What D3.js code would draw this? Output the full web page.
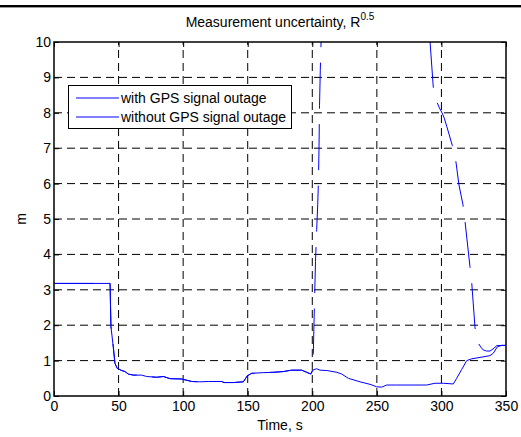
<!DOCTYPE html>
<html><head><meta charset="utf-8">
<script src="https://cdn.jsdelivr.net/npm/d3@7/dist/d3.min.js"></script>
<style>
body{margin:0;background:#fff}
svg{display:block}
text{font-family:"Liberation Sans",Arial,Helvetica,sans-serif;fill:#000}
</style>
</head><body>
<svg id="chart" width="521" height="437"></svg>
<script>
// ---------------- data ----------------
const titleText = "Measurement uncertainty, R";
const titleSup = "0.5";
const xLabel = "Time, s";
const yLabel = "m";
const xTicks = [0, 50, 100, 150, 200, 250, 300, 350];
const yTicks = [0, 1, 2, 3, 4, 5, 6, 7, 8, 9, 10];
const seriesNames = ["with GPS signal outage", "without GPS signal outage"];

// without GPS signal outage
const withoutTime = [0, 43.4, 44.1, 45.9, 47.2, 49, 52.4, 55, 57.5, 61.4, 67.9, 71.8, 79.5, 84.7, 89.8, 98.9,
  106.6, 113, 119.5, 129.8, 131.6, 138.8, 146.6, 149.7, 153, 162, 169.8, 177.6, 184, 191.8, 195.7, 198.8,
  200.8, 203.4, 206, 211.2, 219, 222.8, 227.9, 237, 244.7, 249.9, 253.7, 257.6, 265.4, 288.6, 295, 301.5,
  309.2, 311.8, 315.7, 319.6, 323.4, 329.9, 337.6, 340.2, 343.3, 346.7, 350];
const withoutValue = [3.18, 3.18, 1.96, 1.39, 0.92, 0.78, 0.72, 0.69, 0.62, 0.59, 0.59, 0.55, 0.53, 0.55, 0.49, 0.48,
  0.41, 0.40, 0.41, 0.41, 0.38, 0.38, 0.40, 0.57, 0.64, 0.66, 0.67, 0.69, 0.73, 0.73, 0.67, 0.62,
  0.74, 0.77, 0.73, 0.72, 0.67, 0.62, 0.50, 0.40, 0.33, 0.26, 0.25, 0.31, 0.31, 0.31, 0.36, 0.36,
  0.34, 0.50, 0.75, 1.00, 1.05, 1.09, 1.14, 1.21, 1.39, 1.43, 1.43];

// with GPS signal outage (same as above up to ~199 s, then diverges; values above 10 are off-scale)
const withTime = [0, 43.4, 44.1, 45.9, 47.2, 49, 52.4, 55, 57.5, 61.4, 67.9, 71.8, 79.5, 84.7, 89.8, 98.9,
  106.6, 113, 119.5, 129.8, 131.6, 138.8, 146.6, 149.7, 153, 162, 169.8, 177.6, 184, 191.8, 195.7, 198.8,
  200.0, 200.8, 201.6, 202.5, 203.4, 204.2, 204.8, 205.2, 205.6, 206.2, 206.8, 209, 215, 230, 250, 270, 285, 289,
  291.2, 293.7, 296.8, 298.4, 300.2, 302.2, 304.1, 308.4, 311.1, 313.6, 316.7, 318.3, 322.1, 323.4, 326.0,
  327.2, 328.6, 330.5, 332.4, 335, 337.6, 340, 342.8, 346.7, 350];
const withValue = [3.18, 3.18, 1.96, 1.39, 0.92, 0.78, 0.72, 0.69, 0.62, 0.59, 0.59, 0.55, 0.53, 0.55, 0.49, 0.48,
  0.41, 0.40, 0.41, 0.41, 0.38, 0.38, 0.40, 0.57, 0.64, 0.66, 0.67, 0.69, 0.73, 0.73, 0.67, 0.62,
  0.72, 1.2, 2.5, 3.8, 4.7, 5.4, 6.1, 7.0, 8.2, 9.2, 10.0, 13, 18, 24, 26, 22, 15, 12,
  10.0, 8.72, 8.28, 8.14, 8.02, 7.85, 7.62, 7.08, 6.65, 5.96, 5.40, 4.92, 3.65, 3.23, 1.93,
  1.65, 1.49, 1.38, 1.30, 1.27, 1.27, 1.33, 1.42, 1.43, 1.43];

// ---------------- layout ----------------
const W = 521, H = 437;
const m = {left: 54, right: 506, top: 42, bottom: 396};
const svg = d3.select("#chart");
const x = d3.scaleLinear().domain([0, 350]).range([m.left, m.right]);
const y = d3.scaleLinear().domain([0, 10]).range([m.bottom, m.top]);
const FONT = 14;
const BLUE = "#0000ff";
const DASH = [46, 15.5];
const PERIOD = DASH[0] + DASH[1];

svg.append("rect").attr("width", W).attr("height", H).attr("fill", "#fff");
// top rule
svg.append("rect").attr("x", 0).attr("y", 5).attr("width", W).attr("height", 2.4).attr("fill", "#000");

svg.append("defs").append("clipPath").attr("id", "clip")
  .append("rect").attr("x", m.left).attr("y", m.top)
  .attr("width", m.right - m.left).attr("height", m.bottom - m.top);

// grid
const grid = svg.append("g").attr("stroke", "#000").attr("stroke-width", 1).attr("stroke-dasharray", "8,5");
grid.selectAll("line.gx").data(xTicks.slice(1, -1)).join("line")
  .attr("x1", d => x(d)).attr("x2", d => x(d)).attr("y1", m.bottom).attr("y2", m.top);
grid.selectAll("line.gy").data(yTicks.slice(1, -1)).join("line")
  .attr("x1", m.left).attr("x2", m.right).attr("y1", d => y(d)).attr("y2", d => y(d));

// axes with inward ticks
function styleAxis(g) {
  g.select(".domain").remove();
  g.selectAll(".tick line").attr("stroke", "#000").attr("stroke-width", 1);
  g.selectAll("text").attr("font-size", FONT).attr("font-family", "Liberation Sans, Arial, sans-serif");
}
svg.append("g").attr("transform", `translate(0,${m.bottom})`)
  .call(d3.axisBottom(x).tickValues(xTicks).tickSize(-5).tickPadding(5).tickSizeOuter(0))
  .call(styleAxis);
svg.append("g").attr("transform", `translate(0,${m.top})`)
  .call(d3.axisTop(x).tickValues(xTicks).tickSize(-5).tickFormat("").tickSizeOuter(0))
  .call(styleAxis);
svg.append("g").attr("transform", `translate(${m.left},0)`)
  .call(d3.axisLeft(y).tickValues(yTicks).tickSize(-5).tickPadding(3).tickSizeOuter(0))
  .call(styleAxis);
svg.append("g").attr("transform", `translate(${m.right},0)`)
  .call(d3.axisRight(y).tickValues(yTicks).tickSize(-5).tickFormat("").tickSizeOuter(0))
  .call(styleAxis);

// series
const line = d3.line().x(d => x(d[0])).y(d => y(d[1]));
const withoutData = withoutTime.map((t, i) => [t, withoutValue[i]]);
const withData = withTime.map((t, i) => [t, withValue[i]]);
const plot = svg.append("g").attr("clip-path", "url(#clip)");

plot.append("path").datum(withoutData).attr("d", line)
  .attr("fill", "none").attr("stroke", BLUE).attr("stroke-width", 1);

// dashed series drawn as two runs (split at its off-scale peak)
function pathLength(pts) {
  const p = svg.append("path").attr("d", line(pts)).attr("fill", "none");
  const L = p.node().getTotalLength();
  p.remove();
  return L;
}
const peak = d3.maxIndex(withData, d => d[1]);
const run1 = withData.slice(0, peak + 1);
const run2 = withData.slice(peak);
const split1 = withData.findIndex(d => d[0] >= 200);
const L0 = pathLength(run1.slice(0, split1 + 1)) + 16;
const top2 = run2.findIndex(d => d[0] > 250 && d[1] <= 10);
const L1 = pathLength(run2.slice(0, top2 + 1));
const mod = v => ((v % PERIOD) + PERIOD) % PERIOD;
[[run1, mod(-L0)], [run2, mod(-L1)]].forEach(([pts, off]) => {
  plot.append("path").datum(pts).attr("d", line)
    .attr("fill", "none").attr("stroke", BLUE).attr("stroke-width", 1)
    .attr("stroke-dasharray", DASH.join(",")).attr("stroke-dashoffset", off);
});

// box
svg.append("rect").attr("x", m.left).attr("y", m.top)
  .attr("width", m.right - m.left).attr("height", m.bottom - m.top)
  .attr("fill", "none").attr("stroke", "#000").attr("stroke-width", 1.5);

// title
const title = svg.append("text").attr("x", (m.left + m.right) / 2).attr("y", 27)
  .attr("text-anchor", "middle").attr("font-size", FONT).text(titleText);
title.append("tspan").attr("font-size", 10).attr("dy", -7).text(titleSup);

// axis labels
svg.append("text").attr("x", (m.left + m.right) / 2).attr("y", 430)
  .attr("text-anchor", "middle").attr("font-size", FONT).text(xLabel);
svg.append("text").attr("transform", `translate(26,${(m.top + m.bottom) / 2}) rotate(-90)`)
  .attr("text-anchor", "middle").attr("font-size", FONT).text(yLabel);

// legend
const lg = svg.append("g");
lg.append("rect").attr("x", 68.5).attr("y", 85.5).attr("width", 223).attr("height", 43)
  .attr("fill", "#fff").attr("stroke", "#000").attr("stroke-width", 1);
seriesNames.forEach((name, i) => {
  const yy = 98 + i * 19;
  lg.append("line").attr("x1", 76).attr("x2", 119).attr("y1", yy).attr("y2", yy)
    .attr("stroke", BLUE).attr("stroke-width", 1)
    .attr("stroke-dasharray", i === 0 ? DASH.join(",") : null);
  lg.append("text").attr("x", 121).attr("y", yy + 5).attr("font-size", FONT).text(name);
});
</script>
</body></html>
